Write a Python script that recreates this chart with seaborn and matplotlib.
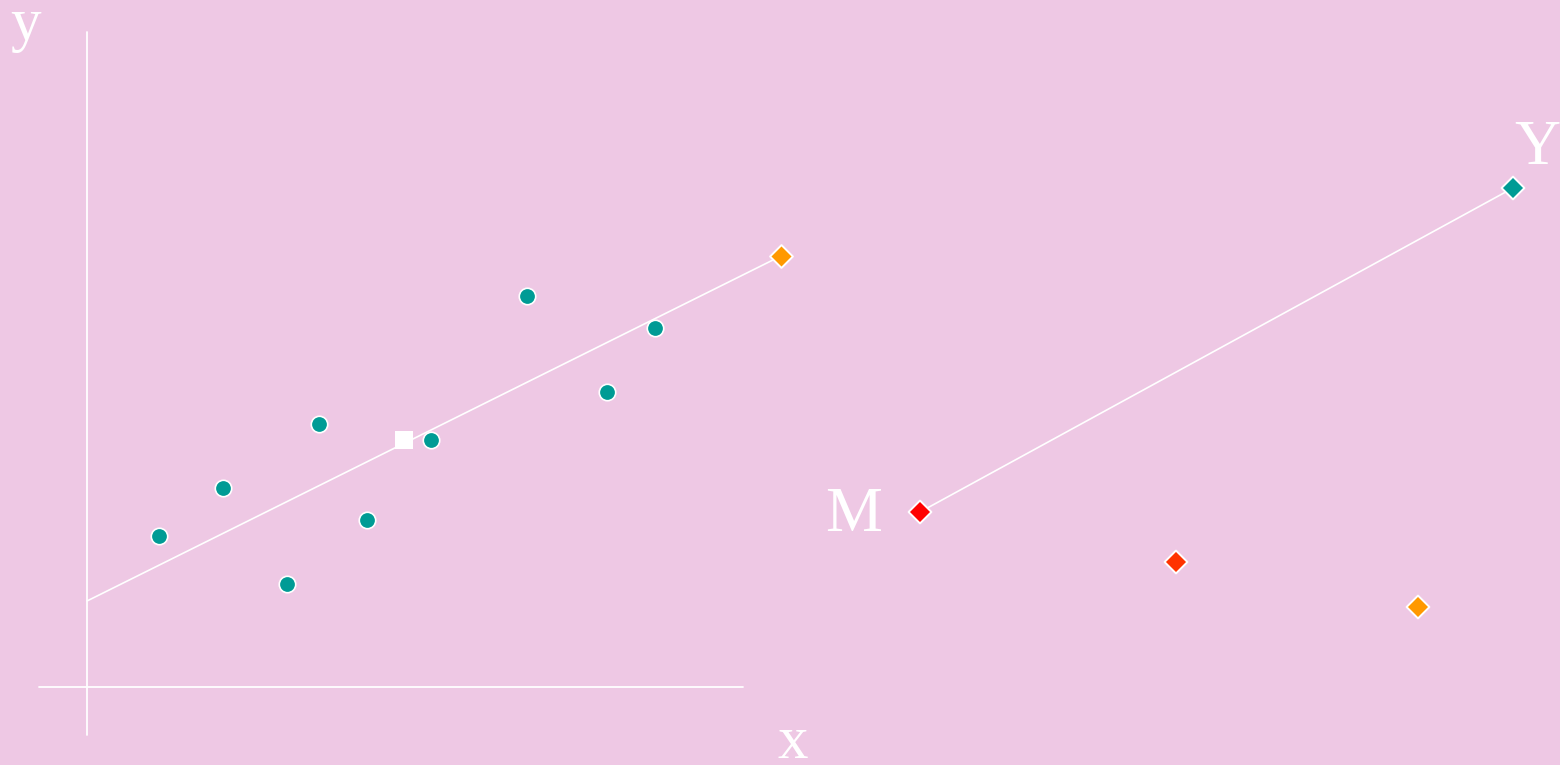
import matplotlib
matplotlib.use("Agg")
import matplotlib.pyplot as plt
import seaborn as sns
import pandas as pd

# Data (in picture coordinates, y grows downward)
pts_x = [159, 223, 287, 319, 367, 431, 527, 607, 655]
pts_y = [536, 488, 584, 424, 520, 440, 296, 392, 328]
mean_x = [404]
mean_y = [440]
fit_x = [87, 781]
fit_y = [601, 256]
fit_end = ("orange", 781, 256)
right_labels = ["M", "mid", "low", "Y"]
right_x = [920, 1176, 1418, 1513]
right_y = [512, 562, 607, 188]
right_colors = ["#FF0000", "#FF3300", "#FF9900", "#009B95"]
link_x = [920, 1513]
link_y = [512, 188]
axis_h_x = [39, 743]
axis_h_y = [687, 687]
axis_v_x = [87, 87]
axis_v_y = [32, 735]

BG = "#EEC8E4"
TEAL = "#009B95"
sns.set_theme(style="white", rc={"axes.facecolor": BG, "figure.facecolor": BG})
plt.rcParams["font.family"] = ["Liberation Serif", "DejaVu Serif"]

fig = plt.figure(figsize=(15.6, 7.65), dpi=100)
ax = fig.add_axes([0, 0, 1, 1])
ax.set_facecolor(BG)

# axes lines
sns.lineplot(x=axis_h_x, y=axis_h_y, ax=ax, color="white", linewidth=1.3, sort=False)
sns.lineplot(x=axis_v_x, y=axis_v_y, ax=ax, color="white", linewidth=1.3, sort=False, estimator=None)

# regression line and link line
sns.lineplot(x=fit_x, y=fit_y, ax=ax, color="white", linewidth=1.2, sort=False)
sns.lineplot(x=link_x, y=link_y, ax=ax, color="white", linewidth=1.2, sort=False)

# points
sns.scatterplot(x=pts_x, y=pts_y, ax=ax, color=TEAL, s=140, edgecolor="white", linewidth=1.2, zorder=5)
sns.scatterplot(x=mean_x, y=mean_y, ax=ax, color="white", marker="s", s=170, edgecolor="white", linewidth=0, zorder=5)
sns.scatterplot(x=[fit_end[1]], y=[fit_end[2]], ax=ax, color="#FF9900", marker="D", s=135, edgecolor="white", linewidth=1.4, zorder=6)

df = pd.DataFrame({"x": right_x, "y": right_y, "lab": right_labels})
sns.scatterplot(data=df, x="x", y="y", hue="lab", palette=dict(zip(right_labels, right_colors)),
                marker="D", s=135, edgecolor="white", linewidth=1.4, ax=ax, legend=False, zorder=6)

# labels
ax.text(26, 25, "y", fontsize=44, color="white", ha="center", va="center")
ax.text(793, 758, "x", fontsize=44, color="white", ha="center", va="baseline")
ax.text(854, 516, "M", fontsize=46, color="white", ha="center", va="center")
ax.text(1537, 149, "Y", fontsize=46, color="white", ha="center", va="center")

ax.set_xlim(0, 1560)
ax.set_ylim(765, 0)
ax.set_axis_off()

fig.savefig("out.png", dpi=100, facecolor=BG)
